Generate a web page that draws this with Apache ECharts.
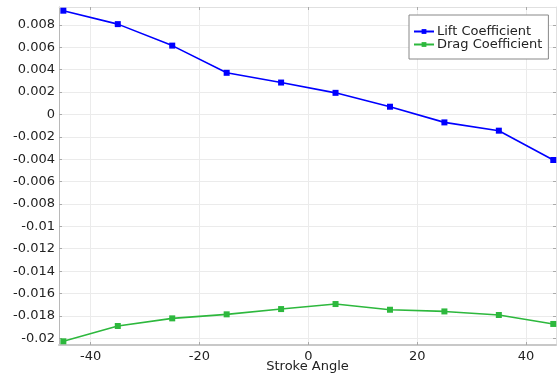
<!DOCTYPE html>
<html>
<head>
<meta charset="utf-8">
<script src="https://cdn.jsdelivr.net/npm/echarts@6/dist/echarts.min.js"></script>
<style>
html,body{margin:0;padding:0;background:#fff;}
#chart{width:559px;height:378px;}
</style>
</head>
<body>
<div id="chart"></div>
<script>
const strokeAngle = [-45, -35, -25, -15, -5, 5, 15, 25, 35, 45];
const liftCoefficient = [0.00927, 0.00807, 0.00615, 0.00372, 0.00285, 0.00193, 0.00069, -0.00071, -0.00145, -0.00407];
const dragCoefficient = [-0.02027, -0.0189, -0.01822, -0.01786, -0.01739, -0.01694, -0.01745, -0.0176, -0.01792, -0.01872];
const xTicks = [-40, -20, 0, 20, 40];
const yTicks = [0.008, 0.006, 0.004, 0.002, 0, -0.002, -0.004, -0.006, -0.008, -0.01, -0.012, -0.014, -0.016, -0.018, -0.02];

const FONT = 'DejaVu Sans';
const liftColor = '#0000ff';
const dragColor = '#2db83d';

const chart = echarts.init(document.getElementById('chart'), null, {renderer: 'canvas'});
const fmtY = v => String(+(+v).toFixed(4));

const xBase = {
  type: 'value', min: -45.8, max: 45.5,
  axisTick: {customValues: xTicks, inside: true, length: 3, lineStyle: {color: '#aaaaaa'}},
  splitLine: {show: false},
  axisLabel: {show: false}
};
const yBase = {
  type: 'value', min: -0.0206, max: 0.0096,
  axisTick: {customValues: yTicks, inside: true, length: 3, lineStyle: {color: '#aaaaaa'}},
  splitLine: {show: false},
  axisLabel: {show: false}
};

chart.setOption({
  animation: false,
  backgroundColor: '#ffffff',
  grid: {left: 59, right: 3, top: 7, bottom: 33, containLabel: false, outerBoundsMode: 'none'},
  xAxis: [
    Object.assign({}, xBase, {
      position: 'bottom',
      name: 'Stroke Angle', nameLocation: 'middle', nameGap: 15, nameMoveOverlap: false,
      nameTextStyle: {fontFamily: FONT, fontSize: 13, color: '#222', verticalAlign: 'top'},
      axisLine: {onZero: false, lineStyle: {color: '#c8c8c8', width: 2}},
      axisLabel: {show: true, customValues: xTicks, fontFamily: FONT, fontSize: 13, color: '#222', margin: 5},
      splitLine: {show: true, lineStyle: {color: '#ebebeb', width: 1}}
    }),
    Object.assign({}, xBase, {
      position: 'top',
      axisLine: {show: true, onZero: false, lineStyle: {color: '#e0e0e0', width: 1}}
    })
  ],
  yAxis: [
    Object.assign({}, yBase, {
      position: 'left',
      axisLine: {show: true, onZero: false, lineStyle: {color: '#b8b8b8', width: 1}},
      axisLabel: {show: true, customValues: yTicks, formatter: fmtY, fontFamily: FONT, fontSize: 13, color: '#222', margin: 4},
      splitLine: {show: true, lineStyle: {color: '#ebebeb', width: 1}}
    }),
    Object.assign({}, yBase, {
      position: 'right',
      axisLine: {show: true, onZero: false, lineStyle: {color: '#e0e0e0', width: 1}}
    })
  ],
  legend: {
    left: 409, top: 15, orient: 'vertical',
    backgroundColor: '#ffffff',
    borderColor: '#888888', borderWidth: 1, borderRadius: 0,
    padding: [10, 6, 8, 4],
    itemWidth: 20, itemHeight: 6, itemGap: 0,
    textStyle: {fontFamily: FONT, fontSize: 13, color: '#222', padding: [0, 0, 0, -2]},
    data: ['Lift Coefficient', 'Drag Coefficient']
  },
  series: [
    {
      name: 'Lift Coefficient', type: 'line',
      data: strokeAngle.map((x, i) => [x, liftCoefficient[i]]),
      symbol: 'rect', symbolSize: 6,
      lineStyle: {color: liftColor, width: 1.6},
      itemStyle: {color: liftColor},
      z: 5
    },
    {
      name: 'Drag Coefficient', type: 'line',
      data: strokeAngle.map((x, i) => [x, dragCoefficient[i]]),
      symbol: 'rect', symbolSize: 6,
      lineStyle: {color: dragColor, width: 1.6},
      itemStyle: {color: dragColor},
      z: 5
    }
  ]
});
</script>
</body>
</html>
